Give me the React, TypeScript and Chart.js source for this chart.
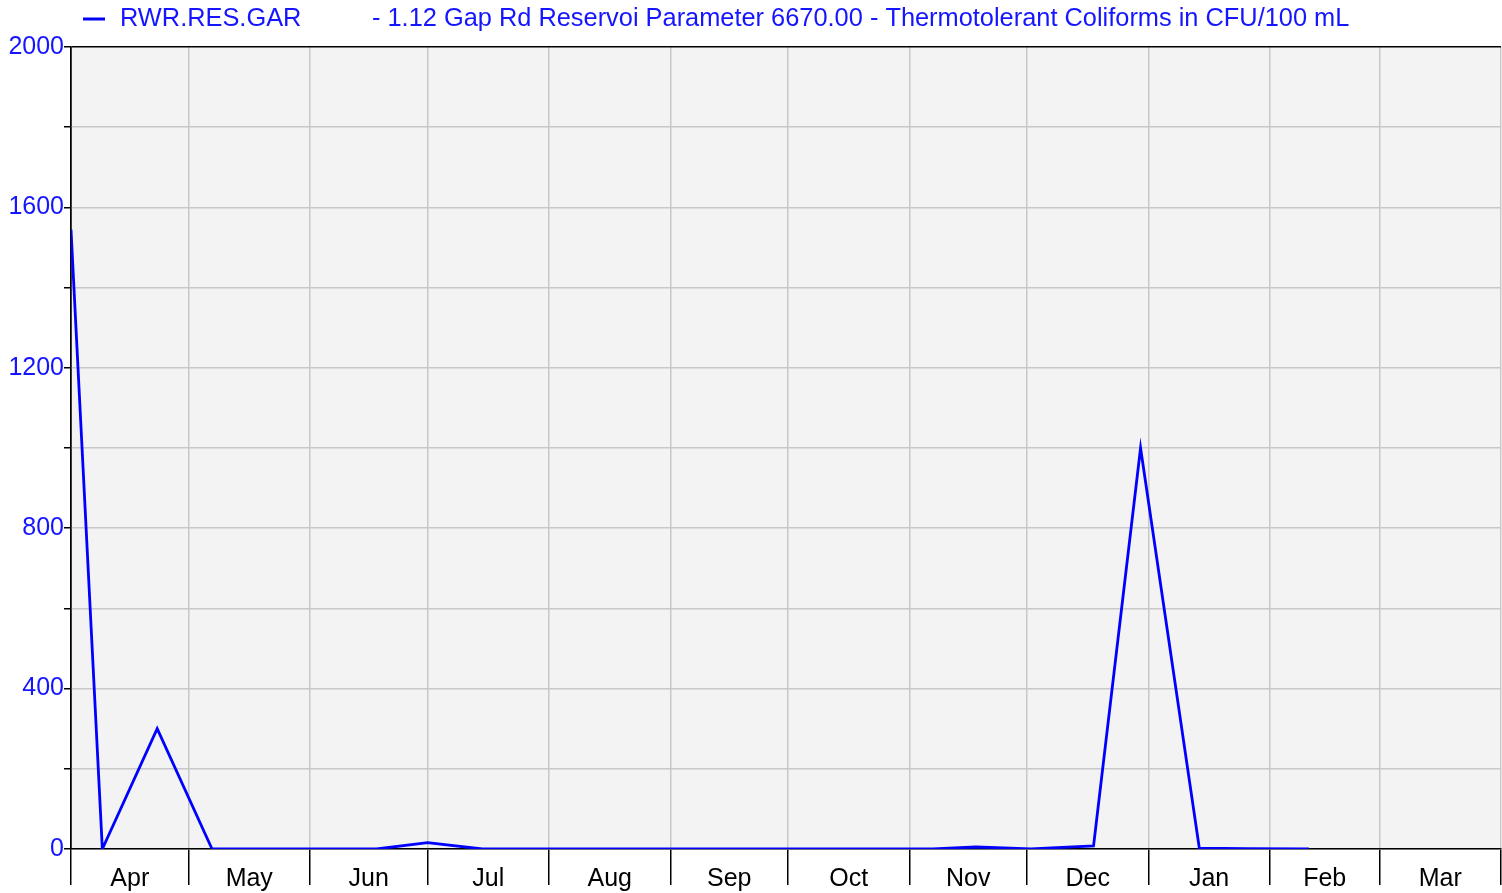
import React, { useEffect, useRef } from "react";
import { Chart, registerables } from "chart.js";

Chart.register(...registerables);

const SERIES_NAME = "RWR.RES.GAR";
const SERIES_DESC = "- 1.12 Gap Rd Reservoi Parameter 6670.00 - Thermotolerant Coliforms in CFU/100 mL";
const MONTHS = ["Apr", "May", "Jun", "Jul", "Aug", "Sep", "Oct", "Nov", "Dec", "Jan", "Feb", "Mar"];
const MONTH_DAYS = [30, 31, 30, 31, 31, 30, 31, 30, 31, 31, 28, 31];
// sample day (days since 1 Apr) and value
const SAMPLE_DAYS = [0, 8, 22, 36, 78, 91, 105, 135, 166, 196, 220, 231, 245, 261, 273, 288, 300, 316];
const COLIFORMS = [1545, 0, 300, 0, 0, 16, 0, 0, 0, 0, 0, 5, 0, 8, 1000, 2, 1, 0];
const Y_MIN = 0;
const Y_MAX = 2000;
const Y_STEP = 200;
const Y_LABEL_STEP = 400;

const BLUE = "#0000ff";
const TEXT_BLUE = "#1515ff";
const FONT = "'Liberation Sans', Arial, sans-serif";

const boundaries: number[] = [];
const centers: number[] = [];
{
  let acc = 0;
  boundaries.push(0);
  MONTH_DAYS.forEach((d) => {
    centers.push(acc + d / 2);
    acc += d;
    boundaries.push(acc);
  });
}
const TOTAL_DAYS = boundaries[boundaries.length - 1];
const isBoundary = (v: number) => boundaries.indexOf(v) >= 0;

const bgPlugin = {
  id: "plotBg",
  beforeDraw(chart: any) {
    const { ctx, chartArea } = chart;
    ctx.save();
    ctx.fillStyle = "#f3f3f3";
    ctx.fillRect(chartArea.left, chartArea.top, chartArea.right - chartArea.left, chartArea.bottom - chartArea.top);
    ctx.restore();
  },
};

const legendPlugin = {
  id: "customLegend",
  afterDraw(chart: any) {
    const { ctx } = chart;
    const y = 19;
    ctx.save();
    ctx.strokeStyle = BLUE;
    ctx.lineWidth = 3;
    ctx.beginPath();
    ctx.moveTo(83, y);
    ctx.lineTo(105, y);
    ctx.stroke();
    ctx.fillStyle = TEXT_BLUE;
    ctx.textBaseline = "middle";
    ctx.textAlign = "left";
    ctx.font = `24px ${FONT}`;
    const w = ctx.measureText(SERIES_DESC).width;
    const size = Math.min(26, (24 * 978) / w);
    ctx.font = `${size}px ${FONT}`;
    ctx.fillText(SERIES_NAME, 120, y);
    ctx.fillText(SERIES_DESC, 372, y);
    ctx.restore();
  },
};

export default function App() {
  const ref = useRef<HTMLCanvasElement | null>(null);
  useEffect(() => {
    if (!ref.current) return;
    const chart = new Chart(ref.current, {
      type: "line",
      data: {
        datasets: [
          {
            label: SERIES_NAME,
            data: SAMPLE_DAYS.map((d, i) => ({ x: d, y: COLIFORMS[i] })),
            borderColor: BLUE,
            backgroundColor: BLUE,
            borderWidth: 2.8,
            pointRadius: 0,
            tension: 0,
            fill: false,
          },
        ],
      },
      options: {
        responsive: false,
        animation: false,
        layout: { padding: { top: 47, right: 1, left: 0, bottom: 0 } },
        plugins: { legend: { display: false }, tooltip: { enabled: false }, title: { display: false } },
        scales: {
          x: {
            type: "linear",
            min: 0,
            max: TOTAL_DAYS,
            afterBuildTicks: (axis: any) => {
              axis.ticks = [...boundaries, ...centers].sort((a, b) => a - b).map((v) => ({ value: v }));
            },
            afterFit: (axis: any) => {
              axis.height = 44;
            },
            grid: {
              color: (c: any) => (c.tick && isBoundary(c.tick.value) ? (c.tick.value === 0 ? "#000" : "#c8c8c8") : "rgba(0,0,0,0)"),
              tickColor: (c: any) => (c.tick && isBoundary(c.tick.value) ? "#000" : "rgba(0,0,0,0)"),
              tickLength: 36,
              lineWidth: 1.5,
            },
            border: { display: true, color: "#000", width: 1.5 },
            ticks: {
              autoSkip: false,
              maxRotation: 0,
              padding: -21,
              color: "#000",
              font: { family: FONT, size: 25 },
              callback: (v: any) => {
                const i = centers.indexOf(Number(v));
                return i >= 0 ? MONTHS[i] : "";
              },
            },
          },
          y: {
            min: Y_MIN,
            max: Y_MAX,
            afterFit: (axis: any) => {
              axis.width = 71;
            },
            grid: {
              color: (c: any) => (c.tick && c.tick.value === Y_MAX ? "#000" : "#c8c8c8"),
              tickColor: "#000",
              tickLength: 7,
              lineWidth: 1.5,
            },
            border: { display: true, color: "#000", width: 1.5 },
            ticks: {
              stepSize: Y_STEP,
              padding: 0,
              color: TEXT_BLUE,
              font: { family: FONT, size: 25 },
              callback: (v: any) => (Number(v) % Y_LABEL_STEP === 0 ? String(v) : ""),
            },
          },
        },
      },
      plugins: [bgPlugin, legendPlugin],
    } as any);
    return () => chart.destroy();
  }, []);
  return (
    <div style={{ position: "fixed", left: 0, top: 0, width: 1502, height: 893, background: "#fff" }}>
      <canvas ref={ref} width={1502} height={893} style={{ display: "block" }} />
    </div>
  );
}
